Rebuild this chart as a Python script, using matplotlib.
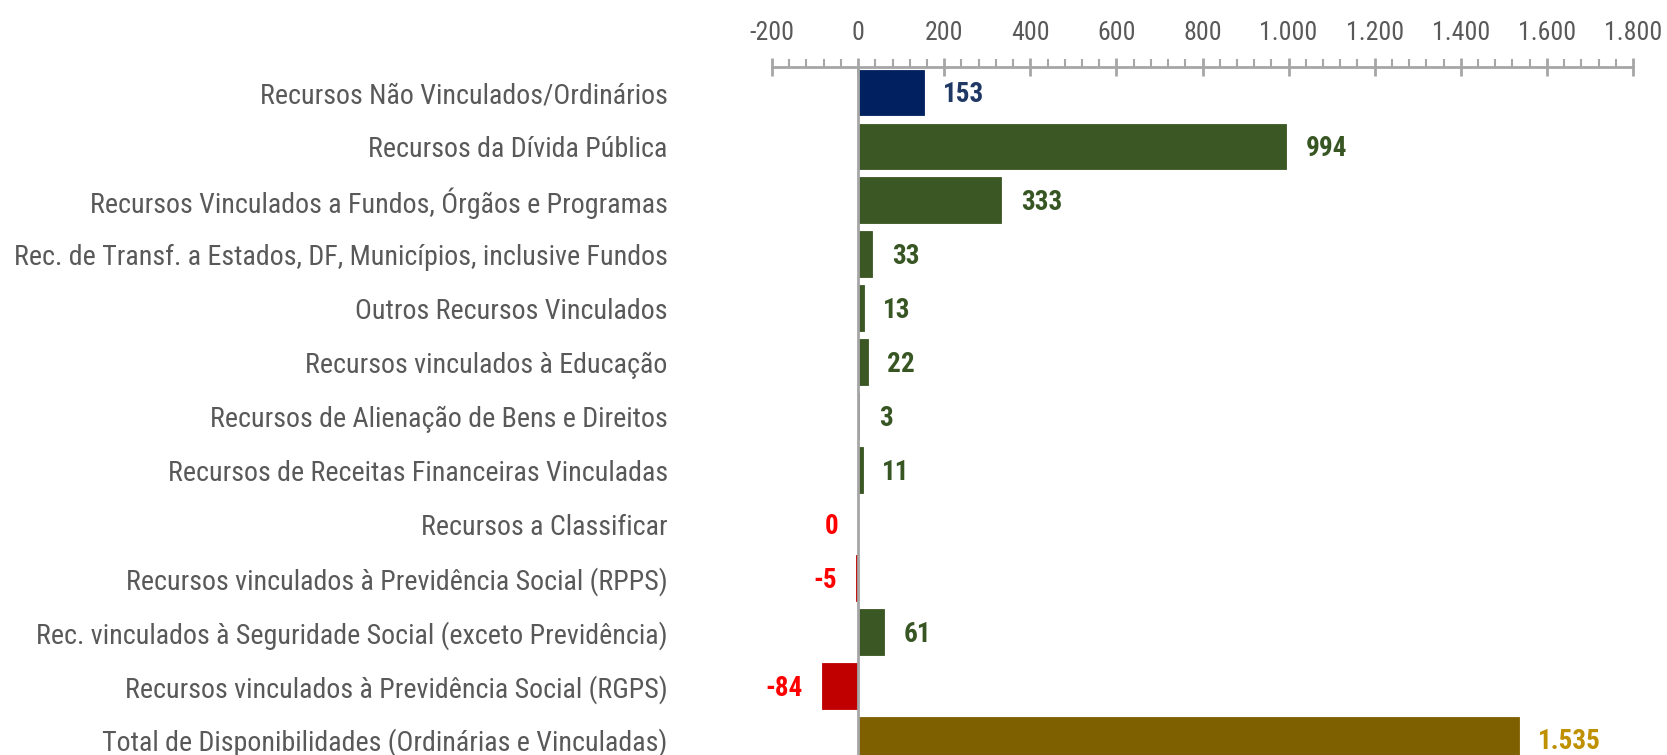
import matplotlib
matplotlib.use("Agg")
import matplotlib.pyplot as plt
from matplotlib import font_manager as fm
from matplotlib.ticker import FuncFormatter, MultipleLocator

plt.rcParams['axes.unicode_minus'] = False

names = {f.name for f in fm.fontManager.ttflist}
primary = "Liberation Sans"
for cand in ["Liberation Sans Narrow", "Arial Narrow", "Roboto Condensed", "Open Sans Condensed"]:
    if cand in names:
        primary = cand
        break
FONT = [primary, "DejaVu Sans"]
plt.rcParams['font.family'] = FONT

categories = [
    "Recursos Não Vinculados/Ordinários",
    "Recursos da Dívida Pública",
    "Recursos Vinculados a Fundos, Órgãos e Programas",
    "Rec. de Transf. a Estados, DF, Municípios, inclusive Fundos",
    "Outros Recursos Vinculados",
    "Recursos vinculados à Educação",
    "Recursos de Alienação de Bens e Direitos",
    "Recursos de Receitas Financeiras Vinculadas",
    "Recursos a Classificar",
    "Recursos vinculados à Previdência Social (RPPS)",
    "Rec. vinculados à Seguridade Social (exceto Previdência)",
    "Recursos vinculados à Previdência Social (RGPS)",
    "Total de Disponibilidades (Ordinárias e Vinculadas)",
]
values = [153, 994, 333, 33, 13, 22, 3, 11, 0, -5, 61, -84, 1535]
value_labels = ["153", "994", "333", "33", "13", "22", "3", "11", "0", "-5", "61", "-84", "1.535"]

NAVY, GREEN, RED, GOLD = "#002060", "#3A5724", "#C00000", "#7F6000"
bar_colors = [NAVY] + [GREEN] * 7 + [RED, RED, GREEN, RED, GOLD]
label_colors = ["#1F3864"] + ["#375623"] * 7 + ["#FF0000", "#FF0000", "#375623", "#FF0000", "#BF9000"]

W, H = 1667, 755
fig = plt.figure(figsize=(W / 100, H / 100), dpi=100)
renderer = fig.canvas.get_renderer()


def fit_size(text, target_px, weight="normal", base=20.0):
    t = fig.text(0, 0, text, fontsize=base, fontweight=weight, family=FONT)
    w = t.get_window_extent(renderer).width
    t.remove()
    return base * target_px / w


cat_size = min(21.5, fit_size(categories[3], 655))
tick_size = min(21.0, fit_size("1.000", 58))
val_size = min(22.5, fit_size("1.535", 63, weight="bold"))

ax = fig.add_axes([772 / W, 0, 861 / W, (H - 67) / H])

y = list(range(len(categories)))
ax.barh(y, values, height=0.85, color=bar_colors, edgecolor=bar_colors, linewidth=0.6, zorder=2)

ax.set_xlim(-200, 1800)
ax.set_ylim(12.28, -0.473)

# zero line
ax.axvline(0, color="#A6A6A6", linewidth=2, zorder=3)

for i, (v, lab, c) in enumerate(zip(values, value_labels, label_colors)):
    neg = v < 0 or lab == "0"
    ax.annotate(lab, xy=(v, i), xytext=(-14 if neg else 14, -1.5), textcoords="offset points",
                ha="right" if neg else "left", va="center", color=c,
                fontsize=val_size, fontweight="bold", family=FONT)

# axes styling
for s in ["bottom", "left", "right"]:
    ax.spines[s].set_visible(False)
ax.spines["top"].set_color("#A6A6A6")
ax.spines["top"].set_linewidth(2)

ax.xaxis.tick_top()
ax.xaxis.set_major_locator(MultipleLocator(200))
ax.xaxis.set_minor_locator(MultipleLocator(40))
ax.xaxis.set_major_formatter(FuncFormatter(lambda x, p: f"{x:,.0f}".replace(",", ".")))
ax.tick_params(axis="x", which="major", direction="inout", length=13, width=2,
               color="#A6A6A6", labelsize=tick_size, labelcolor="#595959", pad=9)
ax.tick_params(axis="x", which="minor", direction="out", length=6, width=1.5, color="#A6A6A6")

ax.set_yticks(y)
ax.set_yticklabels(categories)
ax.tick_params(axis="y", length=0, labelsize=cat_size, labelcolor="#595959", pad=75)

fig.savefig("out.png", dpi=100, facecolor="white")
